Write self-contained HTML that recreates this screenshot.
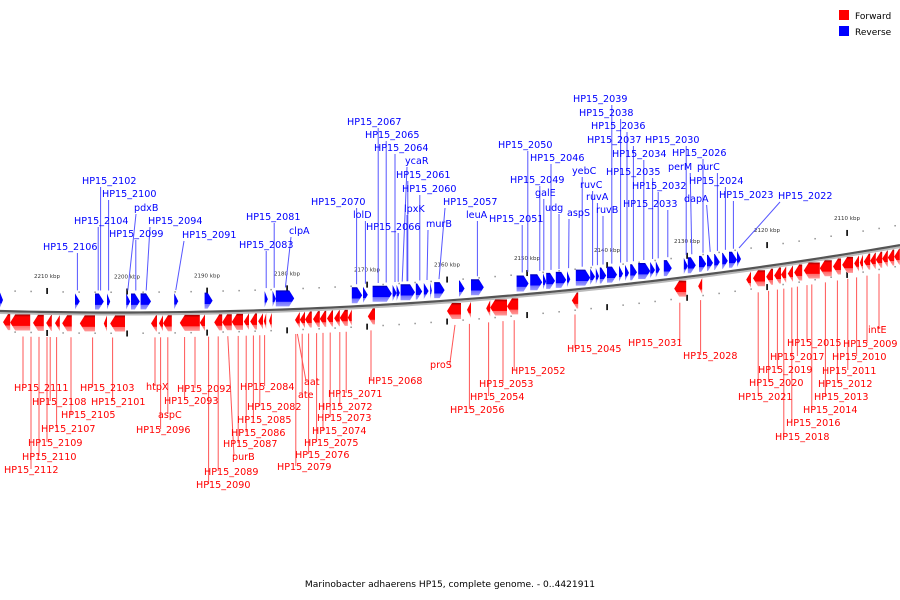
<!DOCTYPE html>
<html><head><meta charset="utf-8">
<style>
html,body{margin:0;padding:0;background:#fff;}
svg{display:block;font-family:"DejaVu Sans","Liberation Sans",sans-serif;}
</style></head>
<body>
<svg id="chart" width="900" height="600" viewBox="0 0 900 600" xmlns="http://www.w3.org/2000/svg">
<defs>
<linearGradient id="gBlue" x1="0" y1="0" x2="0" y2="1">
<stop offset="0" stop-color="#0000aa"/><stop offset="0.12" stop-color="#0000ff"/><stop offset="0.7" stop-color="#0000ff"/><stop offset="0.72" stop-color="#7070ff"/><stop offset="1" stop-color="#9a9aff"/>
</linearGradient>
<linearGradient id="gRed" x1="0" y1="0" x2="0" y2="1">
<stop offset="0" stop-color="#990000"/><stop offset="0.15" stop-color="#ff0000"/><stop offset="0.7" stop-color="#ff0000"/><stop offset="0.72" stop-color="#ff6a6a"/><stop offset="1" stop-color="#ff9a9a"/>
</linearGradient>
</defs>
<g id="ticks"></g>
<g id="backbone"></g>
<g id="leaders"></g>
<g id="genes"></g>
<g id="labels"></g>
<g>
<rect x="839" y="10" width="10" height="10" fill="#ff0000"/>
<text x="855" y="19" font-size="9" fill="#000">Forward</text>
<rect x="839" y="26" width="10" height="10" fill="#0000ff"/>
<text x="855" y="35" font-size="9" fill="#000">Reverse</text>
</g>
<text x="450" y="587" font-size="9.1" text-anchor="middle" fill="#000">Marinobacter adhaerens HP15, complete genome. - 0..4421911</text>
</svg>
<script>
// Reverse-strand genes [start kbp, end kbp] (drawn above, pointing right)
const reverseGenes = [[2215.9,2215.5],[2206.5,2205.9],[2204.0,2202.9],[2202.5,2202.1],[2200.1,2199.6],[2199.5,2198.4],[2198.3,2197.0],[2194.1,2193.6],[2190.3,2189.3],[2182.8,2182.4],[2181.8,2181.4],[2181.4,2179.1],[2171.9,2170.6],[2170.5,2169.9],[2169.3,2166.9],[2166.8,2166.3],[2166.3,2165.9],[2165.8,2164.0],[2163.9,2163.1],[2162.9,2162.3],[2162.1,2161.9],[2161.6,2160.3],[2158.5,2157.8],[2157.0,2155.4],[2151.3,2149.8],[2149.6,2148.1],[2148.0,2147.6],[2147.6,2146.5],[2146.4,2145.1],[2145.0,2144.6],[2143.9,2142.1],[2142.1,2141.5],[2141.4,2141.0],[2140.9,2140.1],[2140.0,2138.75],[2138.5,2138.0],[2137.75,2137.25],[2137.1,2136.25],[2136.1,2134.6],[2134.6,2134.0],[2133.9,2133.4],[2132.9,2131.9],[2130.4,2129.9],[2129.9,2128.9],[2128.5,2127.6],[2127.5,2126.75],[2126.6,2125.9],[2125.6,2124.9],[2124.75,2123.75],[2123.75,2123.25]];
// Forward-strand genes [start kbp, end kbp] (drawn below, pointing left)
const forwardGenes = [[2215.5,2214.6],[2214.6,2212.1],[2211.75,2210.4],[2210.1,2209.4],[2209.0,2208.4],[2208.1,2206.9],[2205.9,2204.0],[2202.9,2202.5],[2202.1,2200.25],[2197.0,2196.25],[2196.0,2195.5],[2195.5,2194.4],[2193.4,2190.9],[2190.9,2190.25],[2189.1,2188.1],[2188.1,2186.9],[2186.9,2185.5],[2185.4,2184.75],[2184.6,2183.75],[2183.6,2183.0],[2182.9,2182.6],[2182.25,2181.9],[2179.0,2178.4],[2178.4,2177.75],[2177.75,2176.9],[2176.75,2175.9],[2175.9,2175.1],[2175.0,2174.25],[2174.1,2173.4],[2173.4,2172.4],[2172.4,2171.9],[2169.9,2169.0],[2160.0,2158.25],[2157.5,2157.0],[2155.1,2154.6],[2154.6,2152.5],[2152.5,2151.1],[2144.4,2143.6],[2131.6,2130.1],[2128.6,2128.1],[2122.6,2122.0],[2121.75,2120.25],[2120.1,2119.25],[2119.1,2118.25],[2118.25,2117.6],[2117.4,2116.75],[2116.6,2115.6],[2115.4,2113.4],[2113.4,2111.9],[2111.75,2110.75],[2110.6,2109.25],[2109.1,2108.5],[2108.4,2108.0],[2107.9,2107.1],[2107.1,2106.4],[2106.4,2105.6],[2105.6,2104.9],[2104.9,2104.1],[2104.1,2103.4]];
// Major tick labels (kbp)
const majorTicks = [2210,2200,2190,2180,2170,2160,2150,2140,2130,2120,2110];
// Reverse labels: [name, label x, label baseline y, gene kbp]
const reverseLabels = [["HP15_2106",43,250,2206.2],["HP15_2104",74,224,2203.6],["HP15_2102",82,184,2203.3],["HP15_2100",102,197,2202.3],["pdxB",134,211,2199.9],["HP15_2099",109,237,2198.9],["HP15_2094",148,224,2197.6],["HP15_2091",182,238,2193.9],["HP15_2081",246,220,2181.6],["HP15_2083",239,248,2182.6],["clpA",289,234,2180.2],["HP15_2070",311,205,2171.3],["HP15_2067",347,125,2168.6],["HP15_2065",365,138,2167.6],["HP15_2064",374,151,2166.5],["ycaR",405,164,2165.6],["HP15_2061",396,178,2164.9],["HP15_2060",402,192,2163.4],["lpxK",404,212,2165.0],["lolD",353,218,2170.2],["HP15_2066",366,230,2166.1],["murB",426,227,2162.5],["HP15_2057",443,205,2161.0],["leuA",466,218,2156.2],["HP15_2050",498,148,2149.9],["HP15_2049",510,183,2148.4],["galE",535,196,2147.9],["HP15_2046",530,161,2147.0],["udg",545,211,2146.0],["HP15_2051",489,222,2150.6],["aspS",567,216,2144.8],["yebC",572,174,2143.1],["ruvC",580,188,2141.8],["ruvA",586,200,2141.2],["ruvB",596,213,2140.5],["HP15_2039",573,102,2139.4],["HP15_2038",579,116,2138.3],["HP15_2036",591,129,2137.5],["HP15_2037",587,143,2136.7],["HP15_2034",612,157,2135.4],["HP15_2035",606,175,2134.3],["HP15_2032",632,189,2133.6],["HP15_2033",623,207,2132.4],["HP15_2030",645,143,2130.1],["perM",668,170,2129.4],["HP15_2026",672,156,2128.0],["dapA",684,202,2127.1],["purC",697,170,2126.2],["HP15_2024",689,184,2125.2],["HP15_2023",719,198,2124.2],["HP15_2022",778,199,2123.5]];
// Forward labels: [name, label x, label baseline y, gene kbp]
const forwardLabels = [["HP15_2111",14,391,2213.0],["HP15_2108",32,405,2209.6],["HP15_2107",41,432,2208.8],["HP15_2109",28,446,2210.0],["HP15_2110",22,460,2211.0],["HP15_2112",4,473,2212.0],["HP15_2103",80,391,2204.3],["HP15_2101",91,405,2201.8],["HP15_2105",61,418,2207.0],["htpX",146,390,2196.5],["aspC",158,418,2194.9],["HP15_2096",136,433,2195.8],["HP15_2092",177,392,2191.5],["HP15_2093",164,404,2192.8],["HP15_2084",240,390,2182.8],["HP15_2082",247,410,2183.4],["HP15_2085",237,423,2184.2],["HP15_2086",231,436,2185.1],["HP15_2087",223,447,2186.1],["purB",232,460,2187.4],["HP15_2089",204,475,2188.6],["HP15_2090",196,488,2189.8],["aat",304,385,2178.7],["ate",298,398,2178.1],["HP15_2071",328,397,2172.6],["HP15_2072",318,410,2173.4],["HP15_2073",317,421,2174.6],["HP15_2074",312,434,2175.5],["HP15_2075",304,446,2176.3],["HP15_2076",295,458,2177.3],["HP15_2079",277,470,2178.9],["HP15_2068",368,384,2169.5],["proS",430,368,2159.0],["HP15_2053",479,387,2153.0],["HP15_2054",470,400,2154.8],["HP15_2056",450,413,2157.2],["HP15_2052",511,374,2151.6],["HP15_2045",567,352,2144.0],["HP15_2031",628,346,2130.9],["HP15_2028",683,359,2128.3],["HP15_2015",787,346,2115.0],["HP15_2017",770,360,2116.2],["HP15_2019",758,373,2118.7],["HP15_2020",749,386,2119.8],["HP15_2021",738,400,2121.1],["HP15_2016",786,426,2116.9],["HP15_2018",775,440,2117.9],["HP15_2014",803,413,2114.4],["HP15_2013",814,400,2112.7],["HP15_2012",818,387,2111.2],["HP15_2011",822,374,2109.9],["HP15_2010",832,360,2108.8],["HP15_2009",843,347,2107.5],["intE",868,333,2106.0]];

const NS = "http://www.w3.org/2000/svg";
function X(kbp){ return 47 + (2210 - kbp) * 8; }
function Y(x){ return 311 + 0.0258 * x - 0.00011 * x * x; }
function mk(tag, attrs, parent){ const e = document.createElementNS(NS, tag); for (const k in attrs) e.setAttribute(k, attrs[k]); parent.appendChild(e); return e; }

const ticksG = document.getElementById('ticks');
const bbG = document.getElementById('backbone');
const leadG = document.getElementById('leaders');
const genesG = document.getElementById('genes');
const labG = document.getElementById('labels');

// backbone
let pts = [], pts2 = [];
for (let x = 0; x <= 900; x += 10) { pts.push(x + ',' + Y(x).toFixed(2)); pts2.push(x + ',' + (Y(x) + 2).toFixed(2)); }
const bs = mk('polyline', {points: pts2.join(' '), fill: 'none', stroke: '#bbbbbb', 'stroke-width': 2}, bbG);


const bl = mk('polyline', {points: pts.join(' '), fill: 'none', stroke: '#555555', 'stroke-width': 2.2}, bbG);



// minor dots and major ticks
for (let k = 2216; k >= 2102; k -= 2) {
  const x = X(k); if (x < 0 || x > 900) continue;
  if (k % 10 === 0) continue;
  const d1 = mk('rect', {x: x - 0.5, y: Y(x) - 21, width: 1.2, height: 1.5, fill: '#777'}, ticksG);
  
  
  const d2 = mk('rect', {x: x - 0.5, y: Y(x) + 20, width: 1.2, height: 1.5, fill: '#777'}, ticksG);
  
  
}
majorTicks.forEach(k => {
  const x = X(k);
  const t1 = mk('rect', {x: x - 0.7, y: Y(x) - 24, width: 1.6, height: 6, fill: '#000'}, ticksG);
  
  
  const t2 = mk('rect', {x: x - 0.7, y: Y(x) + 18, width: 1.6, height: 6, fill: '#000'}, ticksG);
  
  
  const tl = mk('text', {x: x, y: Y(x) - 34, 'font-size': 5.5, 'text-anchor': 'middle', fill: '#333'}, ticksG);
  tl.textContent = k + ' kbp';
  
  
});

// genes
function arrow(x1, x2, yTop, h, right){
  const len = x2 - x1, head = Math.min(5, len);
  if (right) return `${x1},${yTop} ${x2-head},${yTop} ${x2},${yTop+h/2} ${x2-head},${yTop+h} ${x1},${yTop+h}`;
  return `${x2},${yTop} ${x1+head},${yTop} ${x1},${yTop+h/2} ${x1+head},${yTop+h} ${x2},${yTop+h}`;
}
reverseGenes.forEach(g => {
  const x1 = Math.min(X(g[0]), X(g[1])), x2 = Math.max(X(g[0]), X(g[1]));
  const yc = Y((x1 + x2) / 2);
  const p = mk('polygon', {points: arrow(x1, x2, yc - 19, 16, true), fill: 'url(#gBlue)'}, genesG);
  
  
});
forwardGenes.forEach(g => {
  const x1 = Math.min(X(g[0]), X(g[1])), x2 = Math.max(X(g[0]), X(g[1]));
  const yc = Y((x1 + x2) / 2);
  const p = mk('polygon', {points: arrow(x1, x2, yc + 3, 16, false), fill: 'url(#gRed)'}, genesG);
  
  
});

// labels
function addLabel(l, color, isRev){
  const t = mk('text', {x: l[1], y: l[2], 'font-size': 9.6, fill: color}, labG);
  t.textContent = l[0];
  
  
  let w = 6 * l[0].length;
  try { w = t.getComputedTextLength(); } catch (e) {}
  const gx = X(l[3]);
  const ax = Math.min(Math.max(gx, l[1] + 2), l[1] + w - 2);
  let ln;
  if (isRev) ln = mk('line', {x1: gx, y1: Y(gx) - 22, x2: ax, y2: l[2] + 3, stroke: '#5555ff', 'stroke-width': 1}, leadG);
  else ln = mk('line', {x1: gx, y1: Y(gx) + 25, x2: ax, y2: l[2] - 4, stroke: '#ff5555', 'stroke-width': 1}, leadG);
  
  
}
reverseLabels.forEach(l => addLabel(l, '#0000ff', true));
forwardLabels.forEach(l => addLabel(l, '#ff0000', false));
</script>
</body></html>
